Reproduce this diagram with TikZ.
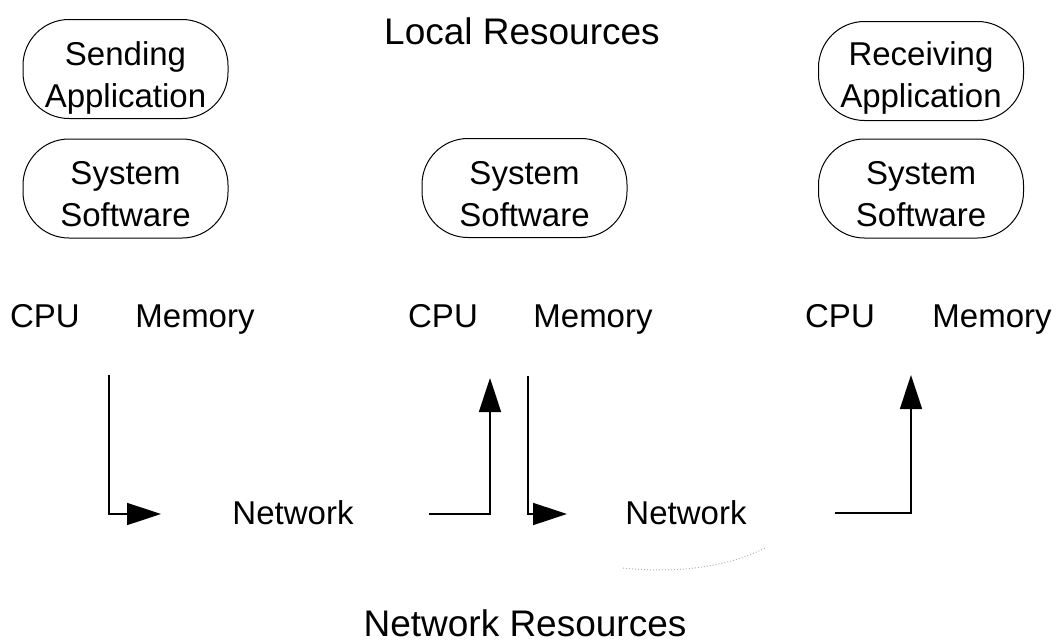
\documentclass[tikz,border=0pt]{standalone}
\usepackage{fontspec}
\setmainfont{Liberation Sans}
\usetikzlibrary{arrows.meta}
\begin{document}
\begin{tikzpicture}[x=1pt,y=-1pt,
  box/.style={draw, line width=1pt, rounded corners=46pt,
    minimum width=205pt, minimum height=99pt, inner sep=0pt},
  lbl/.style={font=\fontsize{33}{42}\selectfont, align=center, inner sep=0pt},
  word/.style={font=\fontsize{33}{40}\selectfont, inner sep=0pt, anchor=base},
  title/.style={font=\fontsize{37}{44}\selectfont, inner sep=0pt, anchor=base},
  flow/.style={line width=1.6pt, -{Triangle[length=34pt,width=22pt]}}]
\useasboundingbox (0,0) rectangle (1060,643);

% titles
\node[title] (local) at (522,44) {Local Resources};
\node[title] (netres) at (525,636) {Network Resources};

% application and system software boxes
\node[box] (sendapp) at (125.5,69) {};
\node[lbl] (sendtxt) at (125.5,78) {Sending\\Application};
\node[box] (sys1) at (125.5,188.5) {};
\node[lbl] (sys1txt) at (125.5,194) {System\\Software};

\node[box] (sys2) at (524.5,188) {};
\node[lbl] (sys2txt) at (524.5,194) {System\\Software};

\node[box] (recvapp) at (921,71) {};
\node[lbl] (recvtxt) at (921,78) {Receiving\\Application};
\node[box] (sys3) at (921,188.5) {};
\node[lbl] (sys3txt) at (921,194) {System\\Software};

% hardware labels
\node[word] (cpu1) at (45,327) {CPU};
\node[word] (mem1) at (195,327) {Memory};
\node[word] (cpu2) at (443,327) {CPU};
\node[word] (mem2) at (593,327) {Memory};
\node[word] (cpu3) at (840,327) {CPU};
\node[word] (mem3) at (992,327) {Memory};

% networks
\node[word] (net1) at (293,524) {Network};
\node[word] (net2) at (686,524) {Network};

% message path
\coordinate (p1s) at (109,375);
\coordinate (p1e) at (161,514);
\coordinate (p2s) at (429,514);
\coordinate (p2e) at (490,378);
\coordinate (p3s) at (528,376);
\coordinate (p3e) at (567,514);
\coordinate (p4s) at (835,513);
\coordinate (p4e) at (911,375);
\draw[flow] (p1s) |- (p1e);
\draw[flow] (p2s) -| (p2e);
\draw[flow] (p3s) |- (p3e);
\draw[flow] (p4s) -| (p4e);

% faint outline below the second network
\coordinate (arcA) at (623,568);
\coordinate (arcB) at (765,548);
\draw[gray!60, dotted, line width=1pt] (arcA) .. controls (680,574) and (730,566) .. (arcB);
\end{tikzpicture}
\end{document}
